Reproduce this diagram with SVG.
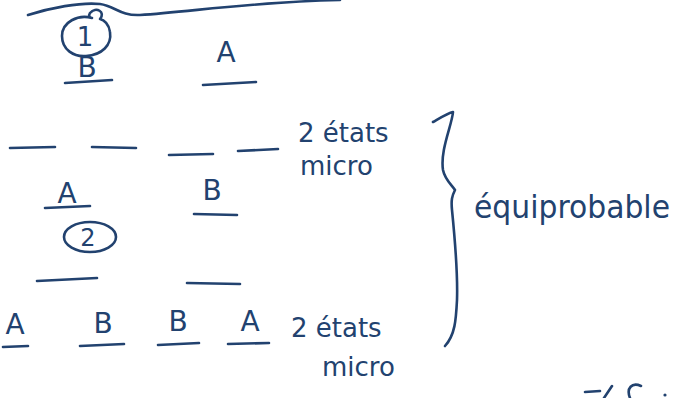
<svg xmlns="http://www.w3.org/2000/svg" width="685" height="398" viewBox="0 0 685 398">
<style>
.ink{fill:none;stroke:#22426f;stroke-width:2.6;stroke-linecap:round;stroke-linejoin:round}
.t{fill:#22426f;font-family:"DejaVu Sans","Liberation Sans",sans-serif}
.l{font-size:28px}
.s{font-size:26px}
</style>
<rect width="685" height="398" fill="#ffffff"/>
<g id="top-curve"><path class="ink" d="M28,15 C50,8 80,2 100,4 C115,6 120,16 140,15 C190,12 250,2 340,0"/></g>
<g id="state1">
<path class="ink" d="M92,18 C78,14 62,22 62,36 C62,50 74,57 86,56 C102,55 112,45 110,32 C109,24 104,20 100,19 C106,12 96,6 90,13 C88,16 90,18 92,18"/>
<text class="t" x="85" y="46" font-size="26" text-anchor="middle">1</text>
<text class="t l" x="87" y="77" text-anchor="middle">B</text>
<path class="ink" d="M65,83 L112,80"/>
<text class="t l" x="226" y="62" text-anchor="middle">A</text>
<path class="ink" d="M203,85 L256,82"/>
</g>
<g id="levels-row">
<path class="ink" d="M10,148 L55,147"/>
<path class="ink" d="M92,147 L136,148"/>
<path class="ink" d="M169,155 L213,154"/>
<path class="ink" d="M238,151 L278,149"/>
<text class="t s" x="298" y="142">2 états</text>
<text class="t s" x="300" y="175">micro</text>
</g>
<g id="state2">
<text class="t l" x="67" y="203" text-anchor="middle">A</text>
<path class="ink" d="M45,208 L90,206"/>
<text class="t l" x="212" y="200" text-anchor="middle">B</text>
<path class="ink" d="M194,214 L237,215"/>
<ellipse class="ink" cx="90" cy="237" rx="26" ry="15"/>
<text class="t" x="88" y="246" font-size="24" text-anchor="middle">2</text>
<path class="ink" d="M37,281 L97,278"/>
<path class="ink" d="M187,283 L240,284"/>
</g>
<g id="state3">
<text class="t l" x="15" y="334" text-anchor="middle">A</text>
<path class="ink" d="M3,347 L28,346"/>
<text class="t l" x="103" y="333" text-anchor="middle">B</text>
<path class="ink" d="M80,346 L124,344"/>
<text class="t l" x="178" y="331" text-anchor="middle">B</text>
<path class="ink" d="M158,345 L199,343"/>
<text class="t l" x="250" y="331" text-anchor="middle">A</text>
<path class="ink" d="M228,344 L269,343"/>
<text class="t s" x="291" y="337">2 états</text>
<text class="t s" x="322" y="376">micro</text>
</g>
<g id="brace">
<path class="ink" d="M433,122 C440,118 448,113 453,112 C452,125 440,150 443,170 C445,180 452,185 455,190 C452,196 451,200 452,210 C455,240 458,270 457,300 C456,320 455,335 445,346"/>
<text class="t" x="474" y="218" font-size="32" textLength="196" lengthAdjust="spacingAndGlyphs">équiprobable</text>
</g>
<g id="fragment">
<path class="ink" d="M585,392 L600,391"/>
<path class="ink" d="M604,398 L612,386"/>
<path class="ink" d="M630,398 C626,388 632,382 641,386"/>
<circle cx="665" cy="395" r="1.6" fill="#22426f"/>
</g>
</svg>
